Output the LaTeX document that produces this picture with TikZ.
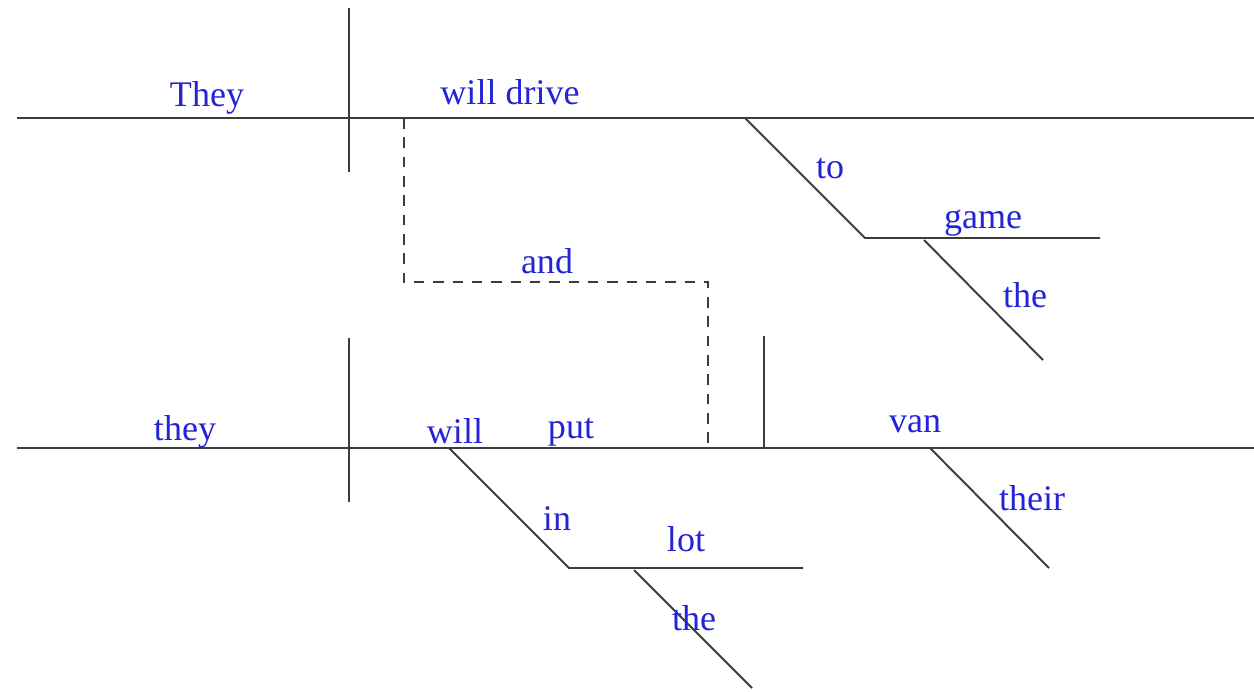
\documentclass[tikz,border=0pt]{standalone}
\usepackage{fontspec}
\setmainfont{Liberation Serif}
\usepackage{tikz}
\usetikzlibrary{positioning, calc}

\definecolor{wordblue}{RGB}{35,35,215}
\definecolor{linegray}{RGB}{60,60,60}

\begin{document}
\begin{tikzpicture}[x=0.02cm, y=-0.02cm,
                line/.style={draw=linegray, line width=1.1pt},
                joiner/.style={draw=linegray, line width=1.1pt, dashed, dash pattern=on 6pt off 5pt},
                word/.style={text=wordblue, font=\fontsize{20.5}{24}\selectfont, anchor=base, inner sep=0pt}]

                \useasboundingbox (0,0) rectangle (1254,691);

                % Points of the first clause
                \coordinate (topL) at (17,118);
                \coordinate (topR) at (1254,118);
                \coordinate (divA) at (349,8);
                \coordinate (divB) at (349,172);
                \coordinate (toA) at (745,118);
                \coordinate (toB) at (865,238);
                \coordinate (gameR) at (1100,238);
                \coordinate (theA) at (924,240);
                \coordinate (theB) at (1043,360);

                % Points of the second clause
                \coordinate (botL) at (17,448);
                \coordinate (botR) at (1254,448);
                \coordinate (divC) at (349,338);
                \coordinate (divD) at (349,502);
                \coordinate (objA) at (764,336);
                \coordinate (objB) at (764,448);
                \coordinate (inA) at (449,448);
                \coordinate (inB) at (569,568);
                \coordinate (lotR) at (803,568);
                \coordinate (the2A) at (634,570);
                \coordinate (the2B) at (752,688);
                \coordinate (theirA) at (930,448);
                \coordinate (theirB) at (1049,568);

                % Conjunction
                \coordinate (andA) at (404,118);
                \coordinate (andB) at (404,282);
                \coordinate (andC) at (708,282);
                \coordinate (andD) at (708,448);

                % Lines
                \draw[line] (topL) -- (topR);
                \draw[line] (divA) -- (divB);
                \draw[line] (toA) -- (toB) -- (gameR);
                \draw[line] (theA) -- (theB);
                \draw[line] (botL) -- (botR);
                \draw[line] (divC) -- (divD);
                \draw[line] (objA) -- (objB);
                \draw[line] (inA) -- (inB) -- (lotR);
                \draw[line] (the2A) -- (the2B);
                \draw[line] (theirA) -- (theirB);
                \draw[joiner] (andA) -- (andB) -- (andC) -- (andD);

                % Words
                \node[word] (subj1) at (207,106) {They};
                \node[word] (verb1) at (510,104) {will drive};
                \node[word] (prep1) at (830,178) {to};
                \node[word] (pobj1) at (983,228) {game};
                \node[word] (art1) at (1025,307) {the};
                \node[word] (conj) at (547,273) {and};
                \node[word] (subj2) at (185,440) {they};
                \node[word] (aux2) at (455,443) {will};
                \node[word] (verb2) at (571,438) {put};
                \node[word] (dobj2) at (915,432) {van};
                \node[word] (poss2) at (1032,510) {their};
                \node[word] (prep2) at (557,530) {in};
                \node[word] (pobj2) at (686,551) {lot};
                \node[word] (art2) at (694,630) {the};
\end{tikzpicture}
\end{document}
